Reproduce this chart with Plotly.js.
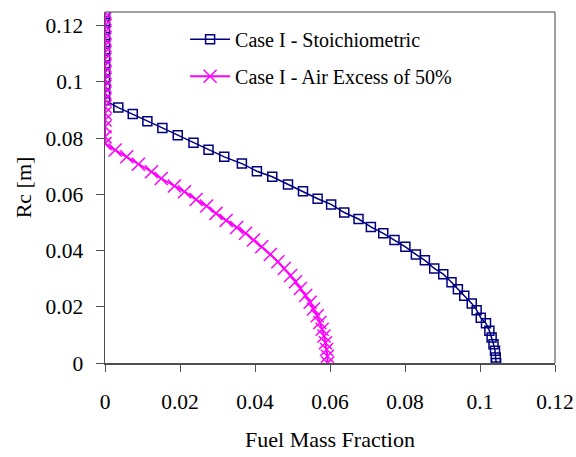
<!DOCTYPE html>
<html>
<head>
<meta charset="utf-8">
<script src="https://cdn.plot.ly/plotly-3.0.1.min.js"></script>
<style>
html,body{margin:0;padding:0;background:#fff;}
#chart{width:576px;height:457px;}
</style>
</head>
<body>
<div id="chart"></div>
<script>
// Case I - Stoichiometric
var stoichX = [0,0,0,0,0,0,0,0,0,0,0,0,0,0,
  0.00355,0.0074,0.0113,0.0153,0.0194,0.0236,0.0276,0.0318,0.0365,0.0405,0.0446,0.0488,0.0528,0.0567,0.0603,
  0.0638,0.0676,0.0709,0.0742,0.0772,0.0801,0.0829,0.0853,0.0878,0.0902,0.0924,0.0941,0.0958,0.0978,0.0991,
  0.1002,0.1016,0.1025,0.1031,0.1036,0.1040,0.1042,0.1043];
var stoichY = [0.1248,0.1234,0.1209,0.1184,0.1159,0.1134,0.1109,0.1084,0.1059,0.1034,0.1009,0.0984,0.0959,0.0934,
  0.0908,0.0885,0.0860,0.0836,0.0810,0.0783,0.0758,0.0733,0.0709,0.0682,0.0662,0.0635,0.0611,0.0584,0.0564,
  0.0535,0.0512,0.0484,0.0461,0.0437,0.0413,0.0386,0.0365,0.0336,0.0316,0.0287,0.0262,0.0239,0.0212,0.0188,
  0.0161,0.0141,0.0115,0.0091,0.0067,0.0044,0.0020,0.0000];
// Case I - Air Excess of 50%
var airX = [0,0,0,0,0,0,0,0,0,0,0,0,0,0,0,0,0,0,0,0,
  0.0027,0.0058,0.0089,0.0124,0.0150,0.0185,0.0212,0.0243,0.0271,0.0296,0.0323,0.0351,0.0375,0.0396,0.0418,
  0.0441,0.0461,0.0478,0.0495,0.0508,0.0521,0.0535,0.0547,0.0556,0.0566,0.0573,0.0579,0.0584,0.0588,0.0591,
  0.0593,0.0594];
var airY = [0.1248,0.1224,0.1200,0.1176,0.1152,0.1128,0.1104,0.1080,0.1056,0.1032,0.1008,0.0984,0.0960,0.0936,
  0.0912,0.0888,0.0864,0.0840,0.0804,0.0780,
  0.0757,0.0733,0.0707,0.0680,0.0656,0.0629,0.0609,0.0581,0.0558,0.0532,0.0507,0.0482,0.0461,0.0437,0.0413,
  0.0386,0.0360,0.0336,0.0311,0.0289,0.0265,0.0240,0.0216,0.0192,0.0168,0.0144,0.0120,0.0096,0.0072,0.0048,
  0.0024,0.0000];
var tickVals = [0,0.02,0.04,0.06,0.08,0.1,0.12];
var tickText = ['0','0.02','0.04','0.06','0.08','0.1','0.12'];
var seriesNames = ['Case I - Stoichiometric','Case I - Air Excess of 50%'];

var font = 'Liberation Serif';
var traces = [
  {x: stoichX, y: stoichY, name: seriesNames[0], type: 'scatter', mode: 'lines+markers', legendgroup: 'a',
   line: {color: '#000080', width: 1.5},
   marker: {symbol: 'square-open', size: 9, color: '#000080', line: {width: 1.5, color: '#000080'}}},
  {x: airX, y: airY, name: seriesNames[1], type: 'scatter', mode: 'lines+markers', legendgroup: 'b',
   line: {color: '#FF00FF', width: 2},
   marker: {symbol: 'x-thin-open', size: 13, color: '#FF00FF', line: {width: 1.5, color: '#FF00FF'}}}
];
var layout = {
  width: 576, height: 457,
  margin: {l: 105, r: 21, t: 12, b: 94},
  paper_bgcolor: '#ffffff', plot_bgcolor: '#ffffff',
  font: {family: font, size: 20, color: '#000000'},
  showlegend: true,
  legend: {x: 0.178, y: 0.978, xanchor: 'left', yanchor: 'top', bgcolor: 'rgba(0,0,0,0)',
    font: {family: font, size: 20, color: '#000'}, itemwidth: 40, traceorder: 'grouped', tracegroupgap: 8},
  xaxis: {range: [0, 0.12], tickvals: tickVals, ticktext: tickText, showgrid: false, zeroline: false,
    showline: true, linecolor: '#505050', linewidth: 1.5, ticks: 'outside', ticklen: 7, tickcolor: '#505050',
    tickwidth: 1, ticklabelstandoff: 12, tickfont: {family: font, size: 21.5, color: '#000'},
    title: {text: 'Fuel Mass Fraction', font: {family: font, size: 22, color: '#000'}, standoff: 18}},
  yaxis: {range: [0, 0.1248], tickvals: tickVals, ticktext: tickText, showgrid: false, zeroline: false,
    showline: true, linecolor: '#505050', linewidth: 1.5, ticks: 'outside', ticklen: 8, tickcolor: '#505050',
    tickwidth: 1, ticklabelstandoff: 8, tickfont: {family: font, size: 21.5, color: '#000'},
    title: {text: 'Rc [m]', font: {family: font, size: 22, color: '#000'}, standoff: 8}},
  shapes: [
    {type: 'line', xref: 'paper', yref: 'paper', x0: 0, x1: 1, y0: 1, y1: 1, line: {color: '#808080', width: 1.5}},
    {type: 'line', xref: 'paper', yref: 'paper', x0: 1, x1: 1, y0: 0, y1: 1, line: {color: '#808080', width: 1.5}}
  ]
};
Plotly.newPlot('chart', traces, layout, {displayModeBar: false, staticPlot: true});
</script>
</body>
</html>
